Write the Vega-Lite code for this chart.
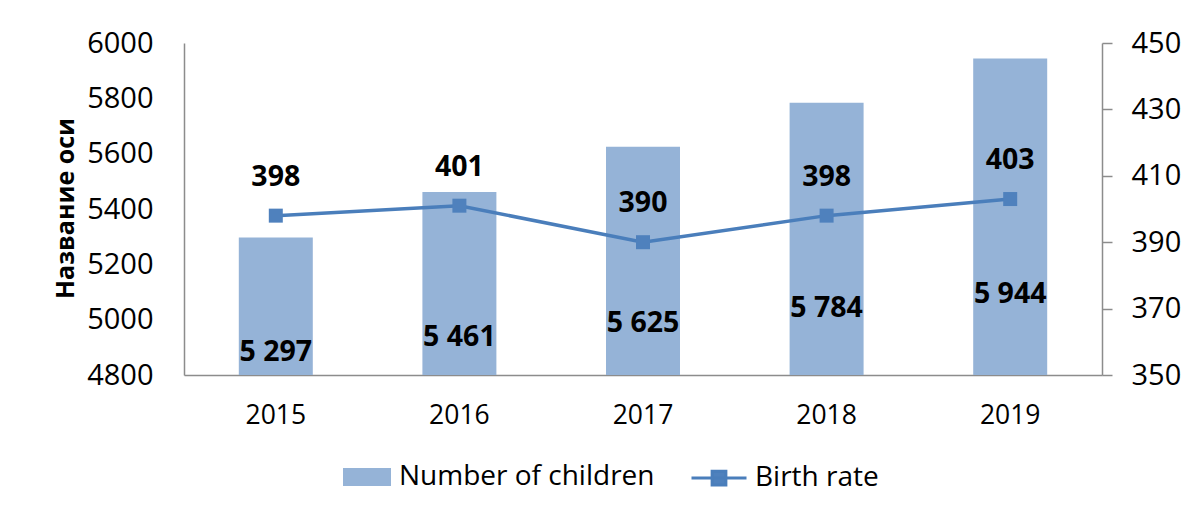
{
  "$schema": "https://vega.github.io/schema/vega-lite/v6.json",
  "autosize": "none",
  "width": 918,
  "height": 332,
  "padding": {"left": 184, "top": 43, "right": 84, "bottom": 138},
  "background": "white",
  "config": {
    "view": {"stroke": null},
    "font": "Open Sans",
    "locale": {"number": {"decimal": ",", "thousands": " ", "grouping": [3], "currency": ["", ""]}},
    "axis": {"labelFont": "Open Sans", "labelFontSize": 29, "labelColor": "#000000", "domainColor": "#8c8c8c", "domainWidth": 1.5, "tickColor": "#8c8c8c", "grid": false}
  },
  "data": {"values": [
    {"year": "2015", "children": 5297, "rate": 398},
    {"year": "2016", "children": 5461, "rate": 401},
    {"year": "2017", "children": 5625, "rate": 390},
    {"year": "2018", "children": 5784, "rate": 398},
    {"year": "2019", "children": 5944, "rate": 403}
  ]},
  "encoding": {
    "x": {"field": "year", "type": "nominal", "scale": {"paddingInner": 0.597, "paddingOuter": 0.2985},
      "axis": {"title": null, "labelAngle": 0, "ticks": false, "labelPadding": 27, "labelFontSize": 26.5}}
  },
  "layer": [
    {
      "mark": {"type": "bar", "color": "#95B3D7"},
      "encoding": {
        "y": {"field": "children", "type": "quantitative", "scale": {"domain": [4800, 6000], "zero": false},
          "axis": {"title": "Название оси", "titleFont": "Open Sans", "titleFontSize": 25, "titleFontWeight": "bold", "titleColor": "#000000",
            "titleAngle": 270, "titleX": -119, "titleY": 165, "titleAlign": "center", "titleBaseline": "middle",
            "values": [4800, 5000, 5200, 5400, 5600, 5800, 6000], "format": "d", "ticks": false, "labelPadding": 31, "orient": "left"}},
        "y2": {"datum": 4800},
        "fill": {"datum": "Number of children", "type": "nominal", "scale": {"range": ["#95B3D7"]},
          "legend": {"orient": "none", "legendX": 159, "legendY": 410, "title": null, "symbolType": "M-1,-0.375H1V0.375H-1Z", "symbolSize": 2304, "symbolStrokeWidth": 0, "symbolOpacity": 1, "labelFont": "Open Sans", "labelFontSize": 28, "labelColor": "#000000", "labelOffset": 8, "labelLimit": 400}}
      }
    },
    {
      "mark": {"type": "text", "fontSize": 28.5, "fontWeight": "bold", "font": "Open Sans", "color": "#000000", "baseline": "middle"},
      "encoding": {
        "y": {"field": "children", "type": "quantitative", "scale": {"domain": [5035, 8770], "zero": false}, "axis": null},
        "text": {"field": "children", "type": "quantitative", "format": ",d"}
      }
    },
    {
      "layer": [
        {
          "mark": {"type": "line", "color": "#4A7EBB", "strokeWidth": 3.5},
          "encoding": {
            "y": {"field": "rate", "type": "quantitative", "scale": {"domain": [350, 450], "zero": false},
              "axis": {"title": null, "orient": "right", "values": [350, 370, 390, 410, 430, 450], "tickSize": 10, "tickWidth": 1.5, "labelPadding": 19}},
            "stroke": {"datum": "Birth rate", "type": "nominal", "scale": {"range": ["#4A7EBB"]},
              "legend": {"orient": "none", "legendX": 506, "legendY": 406, "title": null, "symbolType": "M-1,0H1M-0.25,-0.25H0.25V0.25H-0.25Z", "symbolSize": 3025, "symbolStrokeWidth": 3, "symbolFillColor": "#4F81BD", "labelFont": "Open Sans", "labelFontSize": 28, "labelColor": "#000000", "labelOffset": 7, "labelLimit": 400}}
          }
        },
        {
          "mark": {"type": "square", "color": "#4F81BD", "size": 196, "opacity": 1, "filled": true},
          "encoding": {
            "y": {"field": "rate", "type": "quantitative"}
          }
        },
        {
          "mark": {"type": "text", "fontSize": 28.5, "fontWeight": "bold", "font": "Open Sans", "color": "#000000", "baseline": "middle", "dy": -39},
          "encoding": {
            "y": {"field": "rate", "type": "quantitative"},
            "text": {"field": "rate", "type": "quantitative"}
          }
        }
      ]
    }
  ],
  "resolve": {"scale": {"y": "independent", "fill": "independent", "stroke": "independent"}}
}
